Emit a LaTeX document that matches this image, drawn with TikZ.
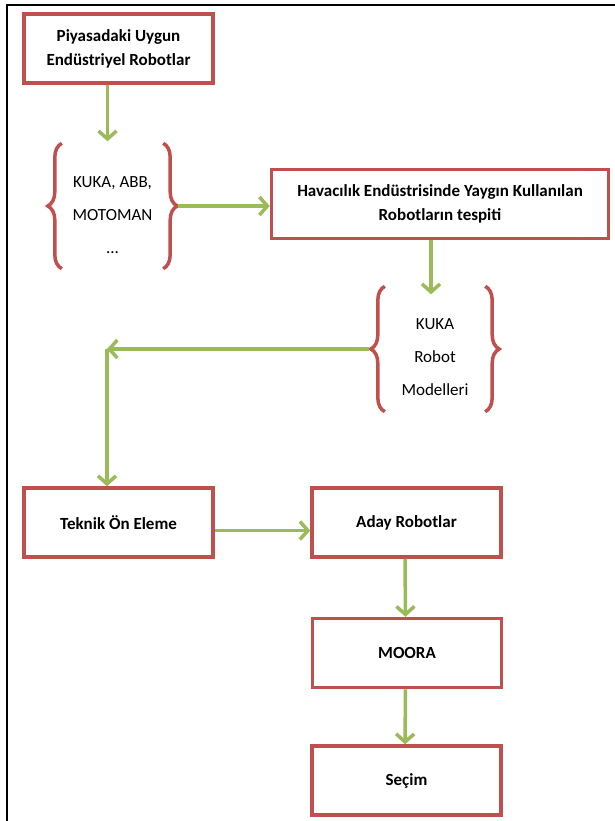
\documentclass[tikz,border=0pt]{standalone}
\usepackage{fontspec}
\setmainfont{Carlito}
\usetikzlibrary{arrows.meta,decorations.pathreplacing}
\definecolor{boxred}{RGB}{192,80,77}
\definecolor{flowgreen}{RGB}{155,187,89}
\tikzset{
  stepbox/.style={draw=boxred, line width=3.5pt, minimum height=69pt, minimum width=189pt, inner sep=0pt, align=center, font=\bfseries\fontsize{17}{24}\selectfont},
  grp/.style={inner sep=0pt, minimum width=101pt, minimum height=125pt},
  items/.style={align=center, inner sep=0pt, font=\fontsize{17}{33}\selectfont},
  curly/.style={draw=boxred, line width=3.5pt, decorate, decoration={brace, amplitude=14pt}},
  flow/.style={draw=flowgreen, line width=3.5pt, -{Straight Barb[length=8pt,width=18pt]}}
}
\begin{document}
\begin{tikzpicture}[x=1pt, y=-1pt]
\useasboundingbox (0,0) rectangle (615,821);
\draw[line width=1.5pt] (7,821) -- (7,5) -- (615,5);
\node[stepbox] (piyasa) at (118.5,48.5) {Piyasadaki Uygun\\Endüstriyel Robotlar};
\node[grp] (grpA) at (112.5,206) {};
\node[items] (grpAtxt) at ([yshift=-9pt]grpA.center) {KUKA, ABB,\\MOTOMAN\\...};
\node[stepbox, minimum width=337pt] (tespit) at (440,204) {Havacılık Endüstrisinde Yaygın Kullanılan\\Robotların tespiti};
\node[grp, minimum width=100pt] (grpB) at (435,349) {};
\node[items] (grpBtxt) at ([yshift=-8pt]grpB.center) {KUKA\\Robot\\Modelleri};
\node[stepbox] (teknik) at (118.5,522.5) {Teknik Ön Eleme};
\node[stepbox] (aday) at (406.5,522.5) {Aday Robotlar};
\node[stepbox] (moora) at (407,653) {MOORA};
\node[stepbox] (secim) at (406.5,780.5) {Seçim};
\coordinate (bend) at (107,349);
\foreach \g in {grpA,grpB} {
  \draw[curly] (\g.south west) -- (\g.north west);
  \draw[curly] (\g.north east) -- (\g.south east);
}
\draw[flow] ([xshift=-11pt]piyasa.south) -- ([xshift=-5pt,yshift=2pt]grpA.north);
\draw[flow] ([xshift=15pt]grpA.east) -- (grpA.east -| tespit.west);
\draw[flow] ([xshift=-9pt]tespit.south) -- ([xshift=-4pt,yshift=-8pt]grpB.north);
\draw[flow] ([xshift=-16pt]grpB.west) -- (bend);
\draw[flow] (bend) -- (bend |- teknik.north);
\draw[flow] ([yshift=-8pt]teknik.east) -- ([yshift=-8pt]aday.west);
\foreach \a/\b in {aday/moora,moora/secim}
  \draw[flow] ([xshift=-1.5pt]\a.south) -- ([xshift=-1.5pt]\b.north);
\end{tikzpicture}
\end{document}
